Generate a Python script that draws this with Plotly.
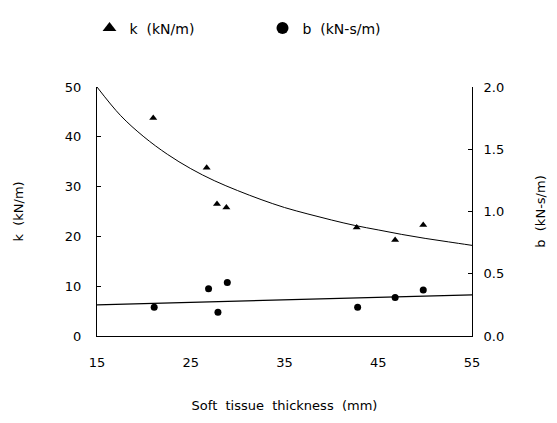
import plotly.graph_objects as go

# Data
thickness_k = [21, 26.7, 27.8, 28.8, 42.7, 46.8, 49.8]
k_values = [43.8, 33.8, 26.5, 25.8, 21.8, 19.3, 22.3]

thickness_b = [21.1, 26.9, 27.9, 28.9, 42.8, 46.8, 49.8]
b_values = [0.23, 0.38, 0.19, 0.43, 0.23, 0.31, 0.37]

# Fitted curves
k_fit_x = [15, 17.5, 20, 22.5, 25, 27.5, 30, 32.5, 35, 37.5, 40, 42.5, 45, 47.5, 50, 52.5, 55]
k_fit_y = [50, 44.3, 40.0, 36.5, 33.6, 31.2, 29.2, 27.4, 25.8, 24.5, 23.3, 22.2, 21.3, 20.4, 19.6, 18.9, 18.2]
b_fit_x = [15, 55]
b_fit_y = [0.25, 0.33]

x_ticks = [15, 25, 35, 45, 55]
k_ticks = [0, 10, 20, 30, 40, 50]
b_ticks = [0.0, 0.5, 1.0, 1.5, 2.0]

FONT = "DejaVu Sans"

fig = go.Figure()
fig.add_trace(go.Scatter(x=k_fit_x, y=k_fit_y, mode="lines", line_shape="spline",
                         line=dict(color="black", width=1), showlegend=False,
                         hoverinfo="skip"))
fig.add_trace(go.Scatter(x=b_fit_x, y=b_fit_y, mode="lines", yaxis="y2",
                         line=dict(color="black", width=1.2), showlegend=False,
                         hoverinfo="skip"))
fig.add_trace(go.Scatter(x=thickness_k, y=k_values, mode="markers", name="k  (kN/m)",
                         marker=dict(symbol="triangle-up", size=7, color="black")))
fig.add_trace(go.Scatter(x=thickness_b, y=b_values, mode="markers", name="b  (kN-s/m)",
                         yaxis="y2",
                         marker=dict(symbol="circle", size=7, color="black")))

fig.update_layout(
    width=557, height=423,
    margin=dict(l=97, r=85, t=85, b=85),
    paper_bgcolor="white", plot_bgcolor="white",
    font=dict(family=FONT, size=13, color="black"),
    legend=dict(orientation="h", x=-0.02, y=1.235, xanchor="left", yanchor="middle",
                font=dict(size=14), entrywidth=128, entrywidthmode="pixels",
                itemsizing="constant"),
    xaxis=dict(range=[15, 55], tickvals=x_ticks, ticktext=[str(v) for v in x_ticks],
               showline=True, linecolor="black", linewidth=1.2, ticks="",
               showgrid=False, zeroline=False, ticklabelstandoff=14,
               title=dict(text="Soft  tissue  thickness  (mm)", font=dict(size=13), standoff=32),
               tickfont=dict(size=13)),
    yaxis=dict(range=[0, 50], tickvals=k_ticks, showline=True, linecolor="black",
               linewidth=1, ticks="inside", ticklen=4, tickcolor="black",
               showgrid=False, zeroline=False, ticklabelstandoff=12,
               title=dict(text="k  (kN/m)", font=dict(size=13), standoff=38),
               tickfont=dict(size=13)),
    yaxis2=dict(range=[0, 2], tickvals=b_ticks, tickformat=".1f", overlaying="y",
                side="right", showline=True, linecolor="black", linewidth=1,
                ticks="inside", ticklen=4, tickcolor="black", showgrid=False,
                zeroline=False, ticklabelstandoff=8,
                title=dict(text="b  (kN-s/m)", font=dict(size=13), standoff=32),
                tickfont=dict(size=13)),
)

fig.write_html("out.html")
